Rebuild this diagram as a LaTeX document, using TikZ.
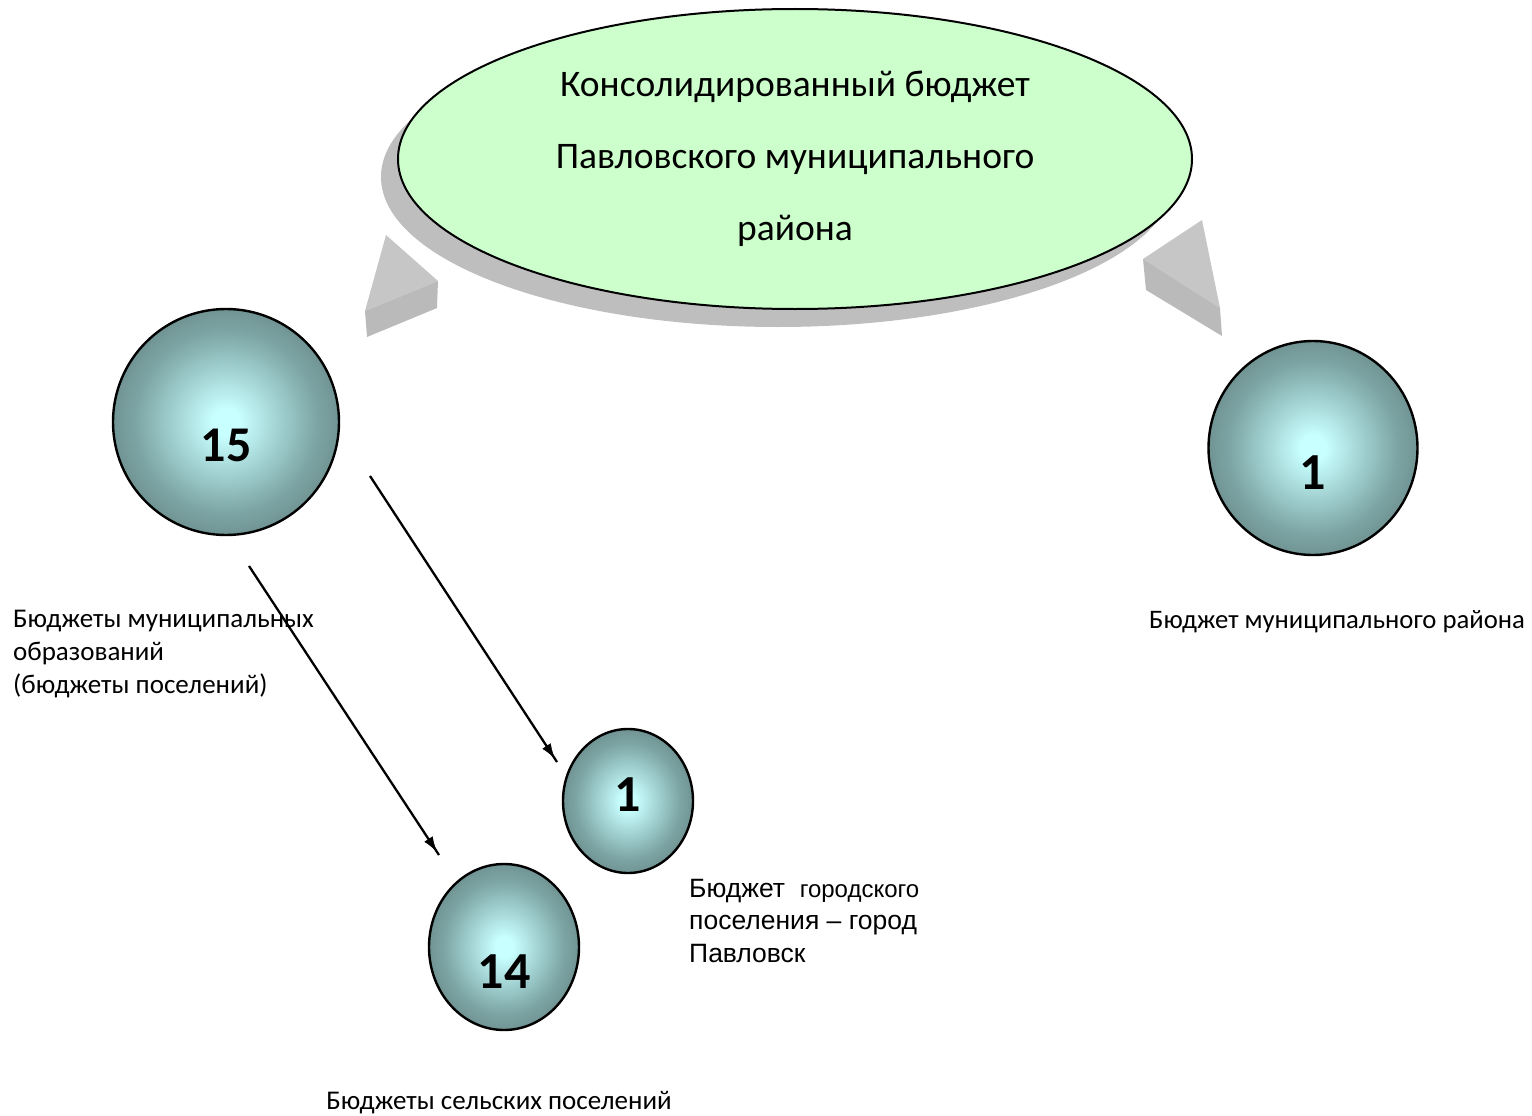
\documentclass[tikz,border=0pt]{standalone}
\usepackage{fontspec}
\setmainfont{Carlito}
\newfontfamily\arialfont{Liberation Sans}
\usetikzlibrary{positioning, calc, shapes.geometric, arrows.meta, decorations.markings}
\definecolor{ballin}{RGB}{200,255,255}
\definecolor{ballmid}{RGB}{125,165,165}
\definecolor{balldark}{RGB}{94,124,122}
\definecolor{ballout}{RGB}{84,110,108}
\definecolor{ovalgreen}{RGB}{204,255,204}
\definecolor{ovalshadow}{RGB}{190,190,190}
\definecolor{wedgetop}{RGB}{198,198,198}
\definecolor{wedgefront}{RGB}{186,186,186}
\pgfdeclareradialshading{ball}{\pgfpoint{0bp}{0bp}}{color(0bp)=(ballin); color(3bp)=(ballin); color(20bp)=(ballmid); color(32bp)=(balldark); color(50bp)=(ballout)}
\tikzstyle{Oval} = [ellipse, draw=black, line width=2pt, fill=ovalgreen,
minimum width=794pt, minimum height=300pt, align=center,
font=\fontsize{37.5}{72}\selectfont]
\tikzstyle{Ball} = [ellipse, draw=black, line width=2.4pt, shading=ball, inner sep=0pt]
\tikzstyle{Num} = [font=\bfseries\fontsize{52}{52}\selectfont]
\tikzstyle{Caption} = [inner sep=0pt, align=left, font=\fontsize{27}{33}\selectfont]
\tikzstyle{Arrow} = [
line width=2.3pt,
decoration={
markings,
mark=at position 0.9999 with {
\arrow{Latex[length=20pt, width=13pt]}}},
preaction = {decorate}]

\begin{document}
\begin{tikzpicture}[x=1pt, y=-1pt]
    \useasboundingbox (0,0) rectangle (1532,1116);

    % top oval with its shadow
    \coordinate (0) at (795,159);
    \fill[ovalshadow] ($(0)+(-17,18)$) ellipse [x radius=397pt, y radius=150pt];
    \node[Oval] (1) at (0) {Консолидированный бюджет\\Павловского муниципального\\района};

    % grey wedges
    \fill[wedgetop] (386,235) -- (438,281) -- (365,311) -- cycle;
    \fill[wedgefront] (365,311) -- (438,281) -- (437,308) -- (367,337) -- cycle;
    \fill[wedgetop] (1202,220) -- (1143,259) -- (1220,308) -- cycle;
    \fill[wedgefront] (1143,259) -- (1220,308) -- (1222,336) -- (1146,290) -- cycle;

    % balls
    \node[Ball, minimum width=226pt, minimum height=226pt] (2) at (226,422) {};
    \node[Ball, minimum width=209pt, minimum height=214pt] (3) at (1313,448) {};
    \node[Ball, minimum width=130pt, minimum height=144pt] (4) at (628,801) {};
    \node[Ball, minimum width=150pt, minimum height=166pt] (5) at (504,947) {};
    \node[Num, font=\bfseries\fontsize{50}{50}\selectfont] (2n) at ($(2)+(0,23)$) {15};
    \node[Num] (3n) at ($(3)+(0,25)$) {1};
    \node[Num] (4n) at ($(4)+(0,-6)$) {1};
    \node[Num] (5n) at ($(5)+(0,25)$) {14};

    % captions
    \node[Caption, anchor=north west] (6) at (13,610) {Бюджеты муниципальных\\образований\\(бюджеты поселений)};
    \node[Caption, anchor=west, font=\fontsize{26.7}{33}\selectfont] (7) at (1149,622) {Бюджет муниципального района};
    \node[Caption, anchor=north west, font=\arialfont\fontsize{26.5}{32.5}\selectfont] (8) at (689,879)
        {Бюджет\ \ {\fontsize{24}{25}\selectfont городского}\\поселения – город\\Павловск};
    \node[Caption] (9) at (499,1103) {Бюджеты сельских поселений};

    % arrows
    \coordinate (a1) at (370,476);
    \coordinate (b1) at (557,762);
    \coordinate (a2) at (249,566);
    \coordinate (b2) at (439,855);
    \draw[Arrow] (a1) to (b1);
    \draw[Arrow] (a2) to (b2);
\end{tikzpicture}
\end{document}
